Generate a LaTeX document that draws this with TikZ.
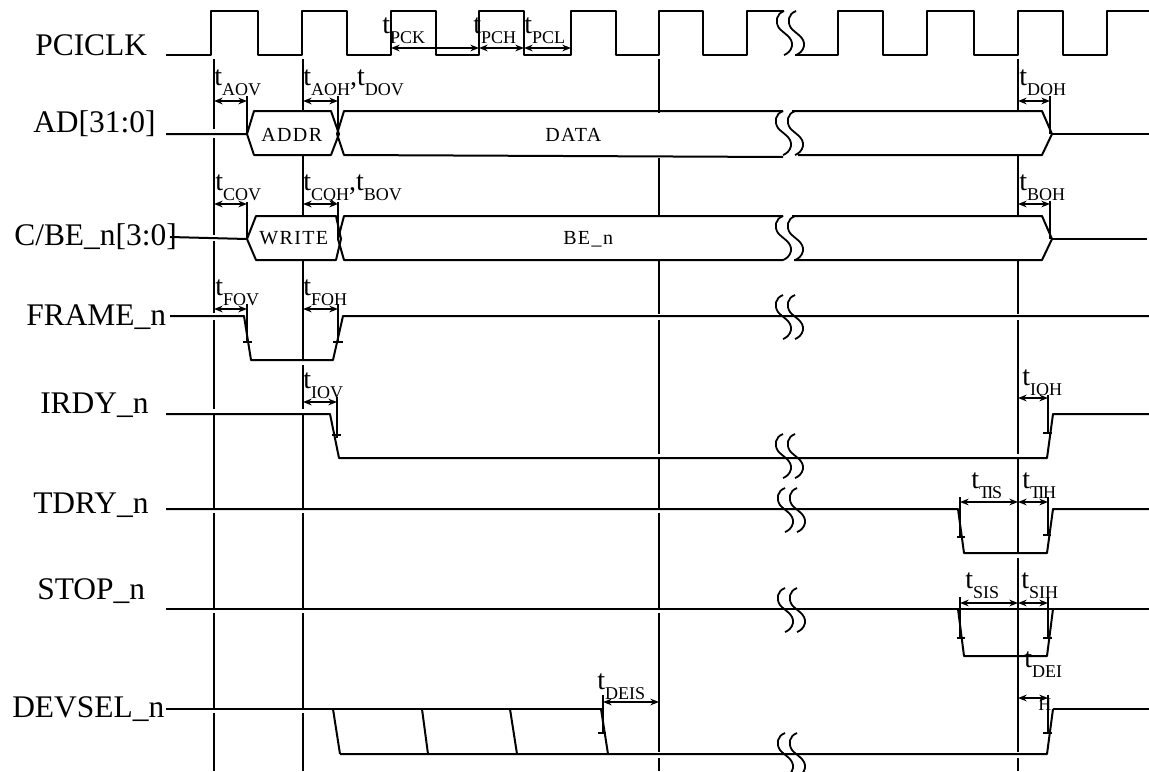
\documentclass[tikz,border=0pt]{standalone}
\usepackage{fontspec}
\setmainfont{Liberation Serif}
\newfontfamily\spacedfont[LetterSpace=7]{Liberation Serif}
\usetikzlibrary{arrows.meta}
\newcommand{\tlab}[1]{{\fontsize{21}{21}\selectfont t}\raisebox{-7.5pt}{\fontsize{13.5}{13.5}\selectfont #1}}
\newcommand{\tcomma}[2]{\tlab{#1}{\fontsize{21}{21}\selectfont ,}\tlab{#2}}
\tikzset{
  sig/.style={line width=1.5pt,line join=round},
  guide/.style={line width=1.35pt},
  meas/.style={line width=1.15pt},
  tickmark/.style={line width=1.35pt},
  spanarrow/.style={line width=1.15pt,{Stealth[length=6.5pt,width=5pt]}-{Stealth[length=6.5pt,width=5pt]}},
  brk/.style={line width=1.35pt},
  signame/.style={anchor=base west,inner sep=0pt,font=\fontsize{23.6}{24}\selectfont},
  tl/.style={anchor=base west,inner sep=0pt},
  busname/.style={anchor=base west,inner sep=0pt,font=\spacedfont\fontsize{15}{15}\selectfont},
}
\newcommand{\brkat}[2]{%
  \begin{scope}[shift={(#1,#2)}]
  \draw[brk] (0,0) .. controls (-8,3) and (-9,11) .. (-5,17) .. controls (0,23) and (9,26) .. (8,35) .. controls (7,40) and (3,43) .. (0,44);
  \draw[brk] (12,0) .. controls (4,3) and (3,11) .. (7,17) .. controls (12,23) and (21,26) .. (20,35) .. controls (19,40) and (15,43) .. (12,44);
  \end{scope}
}
\begin{document}
\begin{tikzpicture}[x=0.75pt,y=-0.75pt]
\useasboundingbox (0,0) rectangle (1149,771);
\fill[white] (0,0) rectangle (1149,771);

% guide lines
\draw[guide] (214,59)--(214,129) (214,138)--(214,235) (214,241)--(214,313) (214,320)--(214,409) (214,415)--(214,508) (214,513)--(214,608) (214,613)--(214,708) (214,713)--(214,771);
\draw[guide] (303,59)--(303,111) (303,155)--(303,216) (303,260)--(303,360) (303,365)--(303,409) (303,415)--(303,508) (303,513)--(303,608) (303,613)--(303,708) (303,713)--(303,771);
\draw[guide] (659,59)--(659,113) (659,158)--(659,216) (659,261)--(659,314) (659,320)--(659,454) (659,459)--(659,508) (659,513)--(659,608) (659,613)--(659,752) (659,758)--(659,771);
\draw[guide] (1018,59)--(1018,111) (1018,155)--(1018,216) (1018,260)--(1018,314) (1018,320)--(1018,454) (1018,459)--(1018,553) (1018,558)--(1018,752) (1018,758)--(1018,771);

% clock
\draw[sig] (166,55)--(211,55)--(211,11)--(258,11)--(258,55)--(302,55)--(302,11)--(347,11)--(347,55)--(391,55)--(391,11)--(436,11)--(436,55)--(479,55)--(479,11)--(524,11)--(524,55)--(571,55)--(571,11)--(616,11)--(616,55)--(659,55)--(659,11)--(703,11)--(703,55)--(747,55)--(747,11)--(784,11);
\draw[sig] (795,55)--(838,55)--(838,11)--(883,11)--(883,55)--(927,55)--(927,11)--(974,11)--(974,55)--(1018,55)--(1018,11)--(1063,11)--(1063,55)--(1107,55)--(1107,11)--(1149,11);
\brkat{784}{11}

% AD
\draw[sig] (166,134)--(247,134)--(254,111)--(331,111)--(339,134)--(331,155)--(254,155)--(247,134);
\draw[sig] (337,134)--(344,111)--(783,111);
\draw[sig] (337,134)--(344,155)--(783,157);
\draw[sig] (792,111)--(1042,111)--(1052,134)--(1042,155)--(798,155);
\draw[sig] (1052,134)--(1149,134);
\brkat{783}{111}

% C/BE
\draw[sig] (170,237)--(247,239)--(256,216)--(336,216)--(341,239)--(336,260)--(256,260)--(247,239);
\draw[sig] (338,239)--(344,216)--(783,216);
\draw[sig] (338,239)--(344,260)--(783,260);
\draw[sig] (792,216)--(1042,216)--(1052,239)--(1042,260)--(794,260);
\draw[sig] (1052,239)--(1147,239);
\brkat{783}{216}

% FRAME
\draw[sig] (170,316)--(244,316)--(251,360)--(333,360)--(343,316)--(1149,316);
\brkat{783}{295}

% IRDY
\draw[sig] (166,414)--(330,414)--(339,458)--(1047,458)--(1053,414)--(1149,414);
\brkat{783}{434}

% TDRY
\draw[sig] (166,509)--(958,509)--(964,553)--(1047,553)--(1053,509)--(1149,509);
\brkat{785}{488}

% STOP
\draw[sig] (166,609)--(1149,609);
\draw[sig] (958,609)--(964,656)--(1047,656)--(1053,609);
\brkat{785}{588}

% DEVSEL
\draw[sig] (166,709)--(603,709);
\draw[sig] (1053,709)--(1149,709);
\draw[sig] (340,754)--(1047,754)--(1053,709);
\draw[sig] (333,709)--(340,754) (422,709)--(428,754) (510,709)--(517,754) (601,709)--(608,754);
\begin{scope}
\clip (0,0) rectangle (1149,771);
\brkat{785}{733}
\end{scope}

% measurement verticals and ticks
\draw[meas] (247,96)--(247,134) (338,96)--(338,134) (1050,96)--(1050,134);
\draw[meas] (247,202)--(247,239) (338,202)--(338,239) (1050,201)--(1050,239);
\draw[tickmark] (247,304)--(247,342) (243,342)--(252,342) (338,304)--(338,342) (333,342)--(343,342);
\draw[tickmark] (337,397)--(337,438) (332,435)--(341,435);
\draw[tickmark] (1048,395)--(1048,433) (1043,433)--(1052,433);
\draw[tickmark] (960,497)--(960,537) (957,537)--(965,537) (1048,497)--(1048,535) (1043,535)--(1051,535);
\draw[tickmark] (960,597)--(960,638) (957,638)--(965,638) (1048,597)--(1048,638) (1043,638)--(1052,638);
\draw[tickmark] (1048,695)--(1048,733) (1043,733)--(1052,733);
\draw[tickmark] (603,695)--(603,733) (598,733)--(606,733);

% spans
\draw[spanarrow] (391,48)--(479,48);
\draw[spanarrow] (479,48)--(524,48);
\draw[spanarrow] (524,48)--(571,48);
\draw[spanarrow] (214,101)--(247,101);
\draw[spanarrow] (303,101)--(338,101);
\draw[spanarrow] (1018,101)--(1050,101);
\draw[spanarrow] (214,204)--(247,204);
\draw[spanarrow] (303,204)--(338,204);
\draw[spanarrow] (1018,204)--(1050,204);
\draw[spanarrow] (214,309)--(247,309);
\draw[spanarrow] (303,309)--(338,309);
\draw[spanarrow] (303,402)--(337,402);
\draw[spanarrow] (1018,398)--(1048,398);
\draw[spanarrow] (960,502)--(1018,502);
\draw[spanarrow] (1018,502)--(1048,502);
\draw[spanarrow] (960,603)--(1018,603);
\draw[spanarrow] (1018,603)--(1048,603);
\draw[spanarrow] (603,702)--(659,702);
\draw[spanarrow] (1018,698)--(1048,698);

% signal names
\node[signame] (nclk) at (35,55) {PCICLK};
\node[signame] (nad) at (33,132) {AD[31:0]};
\node[signame] (ncbe) at (14,245) {C/BE\_n[3:0]};
\node[signame] (nfr) at (26,325) {FRAME\_n};
\node[signame] (nir) at (40,413) {IRDY\_n};
\node[signame] (ntd) at (33,513) {TDRY\_n};
\node[signame] (nst) at (37,599) {STOP\_n};
\node[signame] (ndv) at (12,717) {DEVSEL\_n};

% bus labels
\node[busname] (laddr) at (261,141) {ADDR};
\node[busname] (ldata) at (545,141) {DATA};
\node[busname] (lwrite) at (259,244) {WRITE};
\node[busname] (lben) at (563,244) {BE\_n};

% timing labels
\node[tl] (tpck) at (382,33) {\tlab{PCK}};
\node[tl] (tpch) at (473,33) {\tlab{PCH}};
\node[tl] (tpcl) at (524,33) {\tlab{PCL}};
\node[tl] (taov) at (214,85) {\tlab{AOV}};
\node[tl] (taoh) at (303,85) {\tcomma{AOH}{DOV}};
\node[tl] (tdoh) at (1019,85) {\tlab{DOH}};
\node[tl] (tcov) at (215,190) {\tlab{COV}};
\node[tl] (tcqh) at (303,190) {\tcomma{CQH}{BOV}};
\node[tl] (tboh) at (1019,190) {\tlab{BOH}};
\node[tl] (tfov) at (215,295) {\tlab{FOV}};
\node[tl] (tfoh) at (303,295) {\tlab{FOH}};
\node[tl] (tiov) at (303,388) {\tlab{IOV}};
\node[tl] (tioh) at (1022,385) {\tlab{IOH}};
\node[tl] (ttis) at (971,488) {\tlab{T\kern-2pt I\kern-1pt S}};
\node[tl] (ttih) at (1022,488) {\tlab{T\kern-2pt I\kern-1pt H}};
\node[tl] (tsis) at (965,588) {\tlab{SIS}};
\node[tl] (tsih) at (1021,588) {\tlab{SIH}};
\node[tl] (tdei) at (1024,667) {\tlab{DEI}};
\node[tl,font=\fontsize{13.5}{13.5}\selectfont] (hdei) at (1038,710) {H};
\node[tl] (tdeis) at (597,689) {\tlab{DEIS}};
\end{tikzpicture}
\end{document}
